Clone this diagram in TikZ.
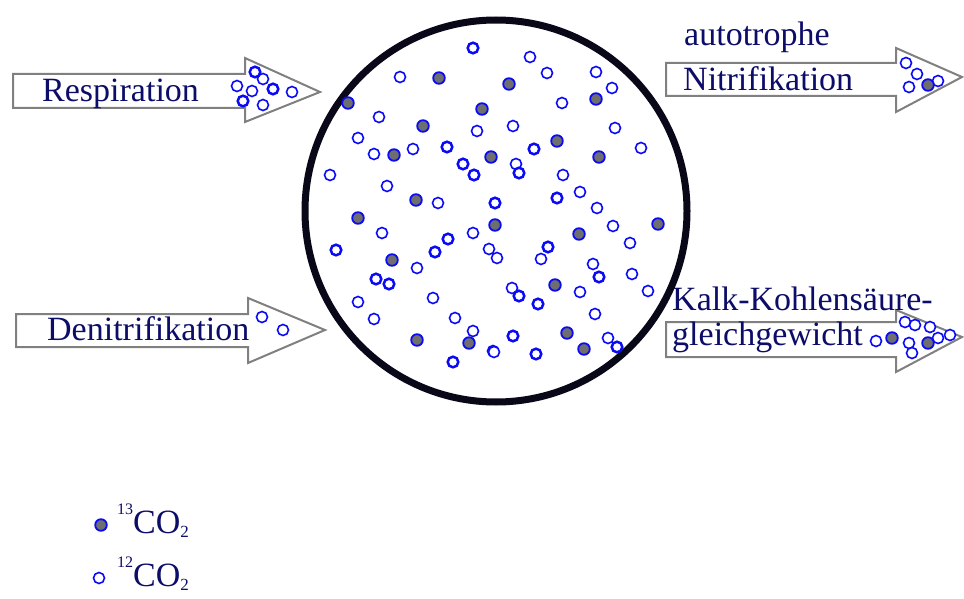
\documentclass[tikz,border=0pt]{standalone}
\usepackage{fontspec}
\setmainfont{Liberation Serif}
\definecolor{txtnavy}{RGB}{12,12,105}
\definecolor{dotblue}{RGB}{10,10,245}
\definecolor{dotgray}{RGB}{110,110,110}
\definecolor{rimcol}{RGB}{8,8,25}
\definecolor{arrgray}{RGB}{128,128,128}
\tikzset{
  od/.style={draw=dotblue,line width=1.6pt,fill=white},
  odk/.style={draw=dotblue,line width=2.5pt,fill=white},
  fd/.style={draw=dotblue,line width=1.8pt,fill=dotgray},
  fatarrow/.style={draw=arrgray,line width=2pt,fill=white,line join=miter},
  lbl/.style={inner sep=0pt,anchor=base west,text=txtnavy,font=\fontsize{34}{34}\selectfont},
}
\newcommand{\mydotO}[1]{\draw[od] #1 circle (5.5);}
\newcommand{\mydotK}[1]{\draw[odk] #1 circle (5.3);}
\newcommand{\mydotF}[1]{\draw[fd] #1 circle (5.8);}
\newcommand{\mysup}[1]{\raisebox{19pt}{\fontsize{16}{16}\selectfont #1}}
\newcommand{\mysub}[1]{\raisebox{-4pt}{\fontsize{17}{17}\selectfont #1}}
\begin{document}
\begin{tikzpicture}[x=1pt,y=-1pt]
\useasboundingbox (0,0) rectangle (964,599);
% arrows
\draw[fatarrow] (13,74) -- (245,74) -- (245,58) -- (320,92) -- (245,122) -- (245,108) -- (13,108) -- cycle;
\draw[fatarrow] (16,314) -- (248,314) -- (248,298) -- (325,330) -- (248,363) -- (248,347) -- (16,347) -- cycle;
\draw[fatarrow] (666,63) -- (896,63) -- (896,48) -- (962,77) -- (896,112) -- (896,96) -- (666,96) -- cycle;
\draw[fatarrow] (666,322) -- (896,322) -- (896,310) -- (962,337) -- (896,372) -- (896,357) -- (666,357) -- cycle;
% labels
\node[lbl] (resp) at (42,102) {Respiration};
\node[lbl] (deni) at (47,340) {Denitrifikation};
\node[lbl] (auto) at (684,46) {autotrophe};
\node[lbl] (nitr) at (683,91) {Nitrifikation};
\node[lbl] (kalk) at (672,310) {Kalk-Kohlensäure-};
\node[lbl] (glei) at (672,345) {gleichgewicht};
% circle
\draw[rimcol,line width=7pt] (496,211) circle (191);
% dots in arrows
\foreach \p in {(263,79),(237,86),(252,91),(292,92),(263,105)} {\mydotO{\p}}
\foreach \p in {(255,72),(273,89),(243,101)} {\mydotK{\p}}
\foreach \p in {(262,317),(283,330)} {\mydotO{\p}}
\foreach \p in {(906,63),(917,74),(909,87),(938,81)} {\mydotO{\p}}
\mydotF{(928,85)}
\foreach \p in {(876,341),(905,322),(915,325),(909,343),(912,353),(930,327),(938,338),(950,335)} {\mydotO{\p}}
\mydotF{(892,338)}
\mydotF{(928,343)}
% dots in circle
\foreach \p in {(400,77),(379,117),(477,131),(358,138),(374,154),(413,149),(330,175),(387,186),(438,203),(530,57),(547,73),(596,72),(612,88),(562,103),(513,126),(615,128),(641,148),(516,164),(563,175),(580,192),(597,208),(382,233),(473,233),(489,249),(497,258),(417,268),(358,302),(433,298),(374,319),(455,318),(473,331),(493,351),(613,226),(630,243),(541,259),(593,264),(632,274),(512,288),(580,292),(648,291),(595,314),(608,338),(494,352)} {\mydotO{\p}}
\foreach \p in {(473,48),(447,147),(463,164),(474,175),(495,203),(534,149),(519,173),(557,198),(448,239),(336,250),(435,252),(376,279),(389,284),(453,362),(548,247),(599,277),(519,296),(538,304),(513,336),(617,347),(536,354)} {\mydotK{\p}}
\foreach \p in {(439,78),(348,103),(482,109),(423,126),(394,155),(491,157),(416,200),(509,84),(596,99),(557,141),(599,157),(358,218),(495,225),(392,260),(417,340),(469,343),(579,234),(658,224),(555,285),(567,333),(584,349)} {\mydotF{\p}}
% legend
\mydotF{(101,525)}
\mydotO{(99,578)}
\node[lbl] (l13) at (117,533) {\mysup{13}CO\mysub{2}};
\node[lbl] (l12) at (117,586) {\mysup{12}CO\mysub{2}};
\end{tikzpicture}
\end{document}
